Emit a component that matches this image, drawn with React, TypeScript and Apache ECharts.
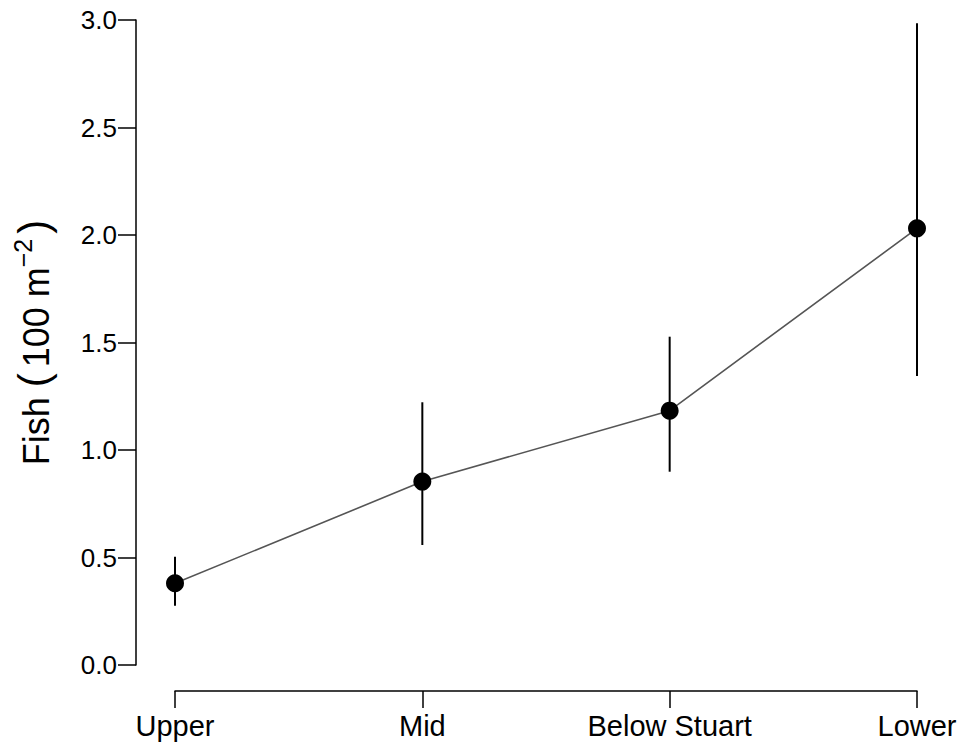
import React, { useEffect, useRef } from "react";
import * as echarts from "echarts";

const categories = ["Upper", "Mid", "Below Stuart", "Lower"];
const means = [0.38, 0.853, 1.183, 2.031];
const lowerBounds = [0.276, 0.558, 0.899, 1.344];
const upperBounds = [0.504, 1.222, 1.527, 2.985];
const yTicks = { min: 0, max: 3, interval: 0.5 };

const FONT = "'Liberation Sans', Arial, Helvetica, sans-serif";

export default function App() {
  const ref = useRef<HTMLDivElement>(null);
  useEffect(() => {
    if (!ref.current) return;
    const chart = echarts.init(ref.current, null, { renderer: "svg" });
    const errData = categories.map((c, i) => [i, lowerBounds[i], upperBounds[i]]);
    chart.setOption({
      animation: false,
      backgroundColor: "#ffffff",
      textStyle: { fontFamily: FONT },
      grid: { left: 175, right: 46, top: 20, bottom: 84, containLabel: false },
      xAxis: {
        type: "category",
        data: categories,
        boundaryGap: false,
        offset: 26,
        axisLine: { show: true, onZero: false, lineStyle: { color: "#000", width: 1.5 } },
        axisTick: { show: true, length: 17, inside: false, alignWithLabel: true, lineStyle: { color: "#000", width: 1.5 } },
        axisLabel: { color: "#000", fontSize: 29, fontFamily: FONT, margin: 20, interval: 0 },
        splitLine: { show: false },
      },
      yAxis: {
        type: "value",
        min: yTicks.min,
        max: yTicks.max,
        interval: yTicks.interval,
        offset: 39,
        axisLine: { show: true, onZero: false, lineStyle: { color: "#000", width: 1.5 } },
        axisTick: { show: true, length: 18, inside: false, lineStyle: { color: "#000", width: 1.5 } },
        axisLabel: {
          color: "#000",
          fontSize: 26,
          fontFamily: FONT,
          margin: 19,
          formatter: (v: number) => v.toFixed(1),
        },
        splitLine: { show: false },
        name: "{a|Fish }{p|(}{a|100 m}{b|−2}{q|)}",
        nameLocation: "middle",
        nameRotate: 90,
        nameGap: 82,
        nameTextStyle: {
          rich: {
            a: { fontSize: 36, fontFamily: FONT, color: "#000", lineHeight: 44, verticalAlign: "bottom" },
            p: { fontSize: 42, fontFamily: FONT, color: "#000", lineHeight: 44, verticalAlign: "bottom", padding: [0, 6, 0, 0] },
            q: { fontSize: 42, fontFamily: FONT, color: "#000", lineHeight: 44, verticalAlign: "bottom", padding: [0, 0, 0, 5] },
            b: { fontSize: 25, fontFamily: FONT, color: "#000", lineHeight: 44, verticalAlign: "top", padding: [0, 0, 0, 0] },
          },
        },
      },
      series: [
        {
          type: "custom",
          z: 1,
          data: errData,
          encode: { x: 0, y: [1, 2] },
          renderItem: (params: any, api: any) => {
            const x = api.value(0);
            const p1 = api.coord([x, api.value(1)]);
            const p2 = api.coord([x, api.value(2)]);
            return {
              type: "line",
              shape: { x1: p1[0], y1: p1[1], x2: p2[0], y2: p2[1] },
              style: { stroke: "#000", lineWidth: 2 },
            };
          },
        },
        {
          type: "line",
          z: 2,
          data: means,
          symbol: "circle",
          symbolSize: 18,
          itemStyle: { color: "#000" },
          lineStyle: { color: "#555555", width: 1.6 },
        },
      ],
    });
    return () => chart.dispose();
  }, []);
  return <div ref={ref} style={{ position: "fixed", left: 0, top: 0, width: 963, height: 749 }} />;
}
